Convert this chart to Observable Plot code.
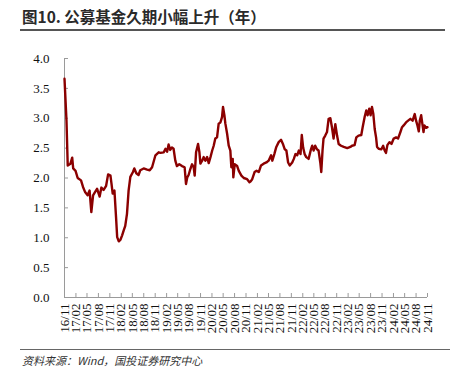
<!DOCTYPE html>
<html><head><meta charset="utf-8">
<script src="https://cdn.jsdelivr.net/npm/d3@7"></script>
<script src="https://cdn.jsdelivr.net/npm/@observablehq/plot@0.6"></script>
<style>
body{margin:0;background:#fff;width:465px;height:378px;overflow:hidden;position:relative;font-family:"Noto Sans CJK SC",sans-serif;}
#title{position:absolute;left:22px;top:5px;font-size:15.5px;font-weight:bold;color:#2a2a2a;white-space:nowrap;line-height:22px;}
#trule{position:absolute;left:20px;top:29px;width:425px;height:2px;background:#555;}
#chart{position:absolute;left:0;top:40px;}
#brule{position:absolute;left:20px;top:349px;width:430px;height:1px;background:#666;}
#caption{position:absolute;left:22px;top:351px;font-size:11px;font-style:italic;color:#333;white-space:nowrap;line-height:18px;}
</style>
</head><body>
<div id="title">图10. 公募基金久期小幅上升（年）</div>
<div id="trule"></div>
<div id="chart"></div>
<div id="brule"></div>
<div id="caption">资料来源：Wind，国投证券研究中心</div>
<script>
const tickLabels = ["16/11","17/02","17/05","17/08","17/11","18/02","18/05","18/08","18/11","19/02","19/05","19/08","19/11","20/02","20/05","20/08","20/11","21/02","21/05","21/08","21/11","22/02","22/05","22/08","22/11","23/02","23/05","23/08","23/11","24/02","24/05","24/08","24/11"];
const yTicks = [0,0.5,1,1.5,2,2.5,3,3.5,4];

const dates = ["2016-11-01","2016-11-17","2016-11-27","2016-12-19","2017-01-02","2017-01-10","2017-01-29","2017-02-15","2017-03-14","2017-03-30",
"2017-04-17","2017-05-06","2017-05-22","2017-06-05","2017-06-19","2017-07-01","2017-07-21","2017-08-11","2017-08-25","2017-09-12",
"2017-10-02","2017-10-18","2017-11-06","2017-11-14","2017-11-24","2017-12-08","2017-12-21","2017-12-30","2018-01-12","2018-01-26",
"2018-02-08","2018-02-20","2018-03-05","2018-03-19","2018-04-01","2018-04-15","2018-05-06","2018-05-17","2018-06-02","2018-06-20",
"2018-07-04","2018-07-31","2018-08-28","2018-09-18","2018-10-07","2018-11-03","2018-11-29","2018-12-13","2019-01-09","2019-01-23",
"2019-02-05","2019-02-17","2019-03-02","2019-03-16","2019-03-29","2019-04-12","2019-04-25","2019-05-14","2019-06-05","2019-06-26",
"2019-07-07","2019-07-17","2019-07-28","2019-08-11","2019-08-25","2019-09-07","2019-09-15","2019-09-26","2019-10-12","2019-10-23",
"2019-10-31","2019-11-14","2019-11-26","2019-12-10","2019-12-24","2020-01-06","2020-01-20","2020-02-03","2020-02-15","2020-02-28",
"2020-03-13","2020-03-26","2020-04-09","2020-04-22","2020-04-30","2020-05-11","2020-05-19","2020-06-02","2020-06-15","2020-06-28",
"2020-07-06","2020-07-17","2020-07-22","2020-08-02","2020-08-22","2020-09-04","2020-09-25","2020-10-14","2020-11-10","2020-11-29",
"2020-12-07","2020-12-21","2021-01-09","2021-01-25","2021-02-12","2021-03-02","2021-03-23","2021-04-14","2021-05-02","2021-05-22",
"2021-06-01","2021-06-17","2021-07-03","2021-07-22","2021-08-10","2021-08-27","2021-09-09","2021-09-22","2021-10-06","2021-10-19",
"2021-11-08","2021-11-21","2021-12-04","2021-12-18","2021-12-31","2022-01-14","2022-01-24","2022-02-04","2022-02-16","2022-03-01",
"2022-03-20","2022-04-08","2022-04-18","2022-04-29","2022-05-12","2022-05-26","2022-06-08","2022-06-22","2022-06-30","2022-07-10",
"2022-07-18","2022-08-01","2022-08-15","2022-08-28","2022-09-11","2022-09-24","2022-10-07","2022-10-21","2022-11-04","2022-11-17",
"2022-12-06","2022-12-28","2023-01-25","2023-02-19","2023-03-04","2023-03-25","2023-04-08","2023-04-26","2023-05-18","2023-05-29",
"2023-06-14","2023-06-27","2023-07-08","2023-07-21","2023-08-01","2023-08-12","2023-08-23","2023-09-03","2023-09-14","2023-09-22",
"2023-10-05","2023-10-27","2023-11-10","2023-11-22","2023-12-03","2023-12-14","2023-12-31","2024-01-16","2024-02-03","2024-02-22",
"2024-03-09","2024-03-28","2024-04-10","2024-04-23","2024-05-12","2024-05-29","2024-06-16","2024-07-04","2024-07-21","2024-08-01",
"2024-08-12","2024-08-23","2024-08-31","2024-09-11","2024-09-19","2024-09-30","2024-10-07","2024-10-21","2024-11-01"];

const duration = [3.66,2.96,2.21,2.24,2.34,2.16,2.12,2.00,1.96,1.85,
1.76,1.71,1.79,1.43,1.71,1.75,1.82,1.69,1.84,1.80,
1.87,2.06,2.04,1.91,1.74,1.79,1.34,1.01,0.94,0.97,
1.04,1.12,1.20,1.40,1.79,2.02,2.10,2.16,2.08,2.05,
2.13,2.16,2.14,2.13,2.18,2.38,2.43,2.42,2.43,2.49,
2.44,2.56,2.47,2.51,2.49,2.29,2.20,2.23,2.20,2.18,
1.90,2.01,2.05,2.15,2.23,2.18,2.04,2.43,2.57,2.43,
2.24,2.29,2.35,2.29,2.35,2.25,2.35,2.46,2.54,2.66,
2.68,2.91,2.93,3.02,3.19,3.05,2.91,2.74,2.54,2.46,
2.18,2.32,2.01,2.23,2.20,2.12,2.04,2.00,1.98,1.93,
1.94,1.98,2.10,2.12,2.10,2.21,2.24,2.26,2.29,2.38,
2.29,2.40,2.52,2.60,2.64,2.56,2.48,2.46,2.26,2.21,
2.26,2.32,2.40,2.38,2.46,2.40,2.72,2.51,2.40,2.35,
2.32,2.48,2.54,2.46,2.54,2.48,2.46,2.26,2.10,2.46,
2.66,2.71,2.77,2.99,3.00,2.85,2.66,2.90,2.71,2.57,
2.54,2.52,2.50,2.52,2.54,2.55,2.68,2.71,2.72,2.85,
3.02,3.13,3.05,3.16,3.05,3.19,3.07,2.82,2.68,2.52,
2.49,2.48,2.54,2.46,2.42,2.55,2.60,2.57,2.66,2.68,
2.66,2.77,2.85,2.88,2.93,2.96,2.99,2.96,3.07,2.96,
2.88,2.78,2.96,3.05,2.93,2.77,2.88,2.84,2.85];

const parseTick = d3.utcParse("%y/%m");
const tickDates = tickLabels.map(parseTick);
const data = dates.map((d, i) => ({date: d3.utcParse("%Y-%m-%d")(d), value: duration[i]}));

const innerW = 465 - 64 - 38;
const innerH = 305 - 18 - 48;
const axisColor = "#9a9a9a";

const chart = Plot.plot({
  width: 465,
  height: 305,
  marginLeft: 64,
  marginRight: 38,
  marginTop: 18,
  marginBottom: 48,
  style: {fontFamily: "'Liberation Serif','Times New Roman',serif", fontSize: "13px", color: "#111", background: "transparent", overflow: "visible"},
  x: {type: "utc", domain: [tickDates[0], tickDates[tickDates.length - 1]]},
  y: {domain: [0, 4]},
  marks: [
    Plot.ruleX([tickDates[0]], {stroke: axisColor, strokeWidth: 1}),
    Plot.ruleY([0], {stroke: axisColor, strokeWidth: 1}),
    Plot.tickY(yTicks, {y: d => d, stroke: axisColor, insetRight: innerW - 4}),
    Plot.tickX(tickDates, {x: d => d, stroke: axisColor, insetTop: innerH - 4}),
    Plot.axisY(yTicks, {tickSize: 0, tickPadding: 15, tickFormat: d3.format(".1f"), label: null}),
    Plot.axisX(tickDates, {tickSize: 0, tickPadding: 6, tickRotate: -90, tickFormat: (d, i) => tickLabels[i], label: null}),
    Plot.lineY(data, {x: "date", y: "value", stroke: "#8b0000", strokeWidth: 2.4, strokeLinejoin: "round"})
  ]
});
document.getElementById("chart").appendChild(chart);
</script>
</body></html>
